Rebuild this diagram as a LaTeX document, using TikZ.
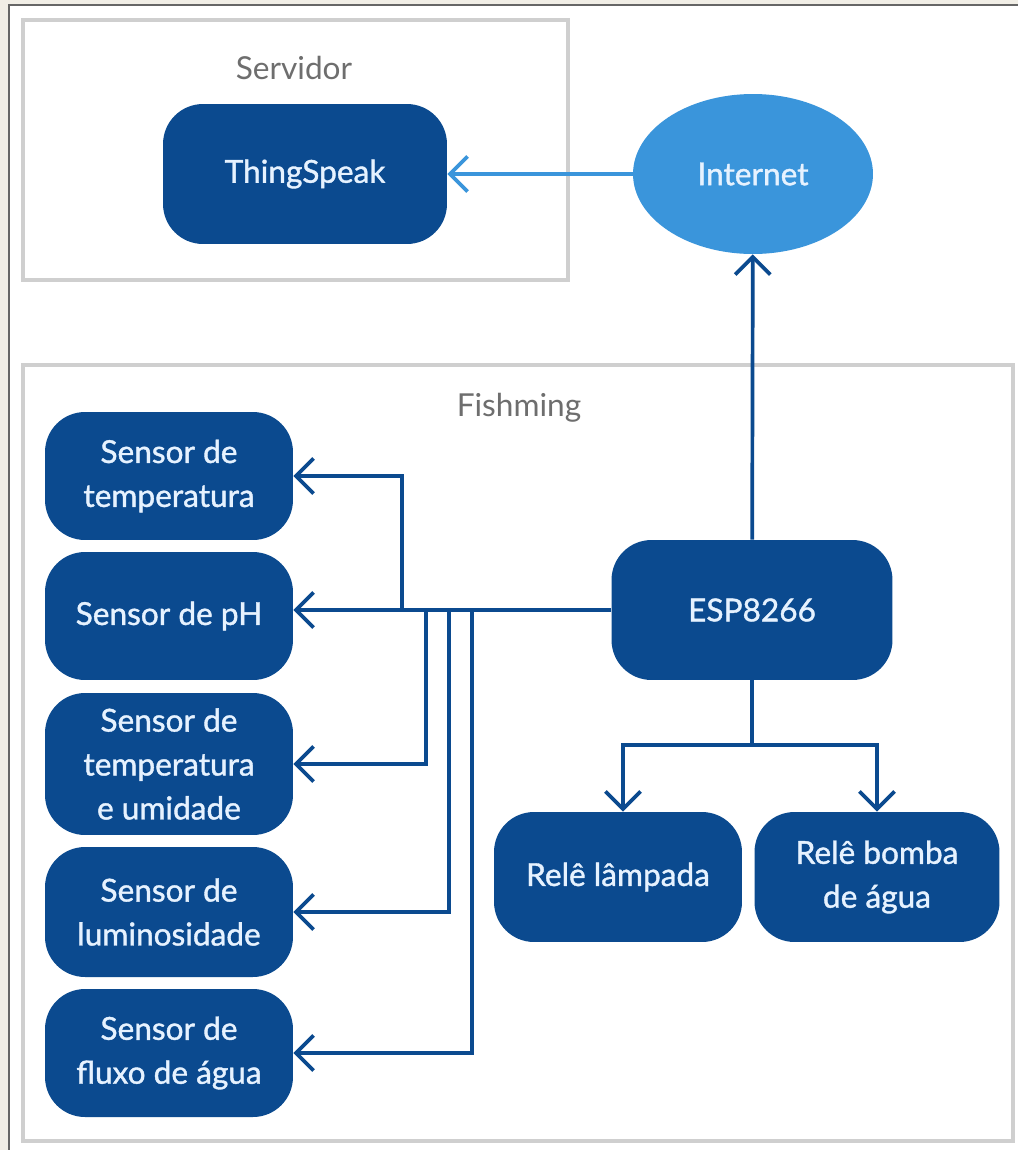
\documentclass[tikz,border=0pt]{standalone}
\usepackage{fontspec}
\setmainfont{Lato}
\newfontfamily\cheia[FakeBold=1.2]{Lato}
\usetikzlibrary{arrows.meta,shapes.geometric}
\definecolor{escuro}{HTML}{0B4A8F}
\definecolor{claro}{HTML}{3A95DB}
\definecolor{textoclaro}{HTML}{E6F2FF}
\definecolor{cinza}{HTML}{CFCFCF}
\definecolor{rotulocor}{HTML}{6E6E6E}
\definecolor{fundo}{HTML}{F1EEE6}
\begin{document}
\begin{tikzpicture}[x=0.02cm, y=-0.02cm,
                texto/.style={font=\fontsize{18}{25}\selectfont},
                bloco/.style={texto, font=\cheia\fontsize{18}{25}\selectfont, fill=escuro,
                  rounded corners=0.8cm, text=textoclaro, align=center, inner sep=0pt},
                sensor/.style={bloco, minimum width=4.96cm, minimum height=2.56cm},
                grupo/.style={draw=cinza, line width=2pt, fill=white, inner sep=0pt},
                rotulo/.style={texto, text=rotulocor},
                seta/.style={draw=escuro, line width=2.1pt,
                  -{Straight Barb[length=10pt,width=20pt]}},
                linha/.style={draw=escuro, line width=2.1pt}
                ]
                \useasboundingbox (0,0) rectangle (1018,1150);
                \fill[fundo] (0,0) rectangle (1018,1150);
                \filldraw[fill=white, draw=gray!80!black, line width=1.2pt] (9,5) rectangle (1040,1170);
                % caixas de grupo
                \node[grupo, minimum width=10.9cm, minimum height=5.2cm] (servidor) at (295.5,150) {};
                \node[grupo, minimum width=19.8cm, minimum height=15.52cm] (fishming) at (518,753) {};
                \node[rotulo] (tservidor) at (294,68) {Servidor};
                \node[rotulo] (tfishming) at (519,408) {Fishming};
                % nos
                \node[bloco, minimum width=5.68cm, minimum height=2.8cm] (thing) at (305,174) {ThingSpeak};
                \node[bloco, ellipse, fill=claro, rounded corners=0pt,
                  minimum width=4.8cm, minimum height=3.2cm] (internet) at (753,174) {Internet};
                \node[bloco, minimum width=5.62cm, minimum height=2.8cm] (esp) at (752,610) {ESP8266};
                \node[sensor] (stemp) at (169,476) {Sensor de\\temperatura};
                \node[sensor] (sph) at (169,616) {Sensor de pH};
                \node[sensor, minimum height=2.84cm] (sumid) at (169,764) {Sensor de\\temperatura\\e umidade};
                \node[sensor, minimum height=2.6cm] (slum) at (169,912) {Sensor de\\luminosidade};
                \node[sensor] (sfluxo) at (169,1053) {Sensor de\\fluxo de água};
                \node[bloco, minimum width=4.96cm, minimum height=2.6cm] (rlamp) at (618,877) {Relê lâmpada};
                \node[bloco, minimum width=4.9cm, minimum height=2.6cm] (rbomba) at (877,877) {Relê bomba\\de água};
                % ligacoes
                \coordinate (j1) at (402,610);
                \coordinate (j2) at (426,610);
                \coordinate (j3) at (449,610);
                \coordinate (j4) at (472,610);
                \coordinate (jr) at (752,745);
                \draw[seta, draw=claro] (internet) -- (thing);
                \draw[seta] (esp) -- (internet);
                \draw[seta] (esp.west) -- (sph.east |- esp.west);
                \draw[seta] (j1) |- (stemp.east);
                \draw[seta] (j2) |- (sumid.east);
                \draw[seta] (j3) |- (slum.east);
                \draw[seta] (j4) |- (sfluxo.east);
                \draw[linha] (esp.south) -- (jr);
                \draw[seta] (jr) -| ([xshift=0.1cm]rlamp.north);
                \draw[seta] (jr) -| (rbomba.north);
\end{tikzpicture}
\end{document}
